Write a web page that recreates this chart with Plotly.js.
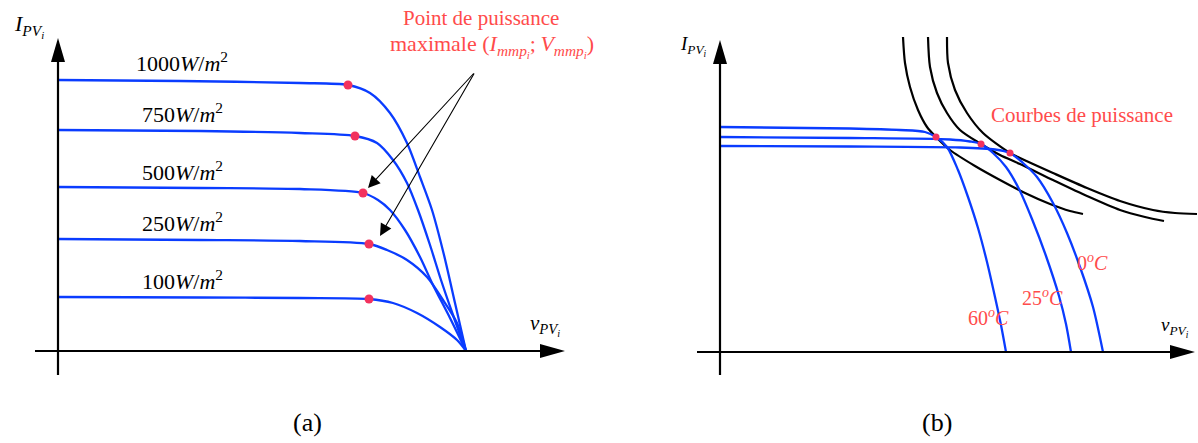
<!DOCTYPE html>
<html>
<head>
<meta charset="utf-8">
<script src="https://cdn.plot.ly/plotly-3.0.1.min.js"></script>
<style>
  html, body { margin: 0; padding: 0; background: #ffffff; }
  #fig { width: 1198px; height: 443px; }
</style>
</head>
<body>
<div id="fig"></div>
<script>
// ---------- (a) I-V curves for several irradiance levels ----------
const irradianceLabels = ['1000', '750', '500', '250', '100'];
const vIrr1000 = [0, 12.2, 24.2, 29.0, 31.2, 33.2, 34.9, 36.2, 37.4, 38.6, 39.7, 40.8];
const iIrr1000 = [5.42, 5.40, 5.36, 5.32, 5.16, 4.76, 4.16, 3.48, 2.82, 1.92, 0.96, 0];
const vIrr750 = [0, 14.2, 24.2, 29.7, 31.9, 33.5, 34.9, 36.0, 37.2, 38.3, 39.5, 40.8];
const iIrr750 = [4.42, 4.40, 4.36, 4.30, 4.16, 3.82, 3.36, 2.82, 2.12, 1.42, 0.72, 0];
const vIrr500 = [0, 14.2, 24.2, 30.5, 32.0, 33.2, 34.7, 36.2, 37.5, 39.2, 40.8];
const iIrr500 = [3.28, 3.26, 3.24, 3.16, 3.02, 2.82, 2.42, 1.88, 1.32, 0.66, 0];
const vIrr250 = [0, 14.2, 24.2, 31.1, 32.9, 34.9, 36.9, 38.5, 39.9, 40.8];
const iIrr250 = [2.24, 2.22, 2.20, 2.14, 2.02, 1.82, 1.48, 1.02, 0.56, 0];
const vIrr100 = [0, 14.2, 24.2, 31.1, 33.5, 35.9, 38.2, 39.9, 40.8];
const iIrr100 = [1.08, 1.07, 1.06, 1.04, 0.96, 0.76, 0.48, 0.22, 0];
// maximum power points of each irradiance curve
const vMppIrr = [29.0, 29.7, 30.5, 31.1, 31.1];
const iMppIrr = [5.32, 4.30, 3.16, 2.14, 1.04];
// irradiance label positions (centre of each label)
const vIrrLabel = [12.4, 12.4, 12.4, 12.4, 12.4];
const iIrrLabel = [5.78, 4.76, 3.60, 2.58, 1.42];

// ---------- (b) I-V curves for several temperatures ----------
const temperatureLabels = ['60', '25', '0'];
const vT60 = [0, 13.0, 18.0, 20.5, 21.6, 22.7, 23.8, 24.8, 25.8, 26.7, 27.5, 28.1, 28.6];
const iT60 = [4.50, 4.47, 4.44, 4.40, 4.30, 4.10, 3.64, 3.10, 2.48, 1.80, 1.10, 0.54, 0];
const vT25 = [0, 13.0, 23.0, 25.0, 26.1, 27.3, 28.6, 29.9, 31.2, 32.6, 33.9, 34.6, 35.1];
const iT25 = [4.30, 4.28, 4.25, 4.21, 4.16, 3.98, 3.70, 3.26, 2.66, 1.92, 1.12, 0.56, 0];
const vT0 = [0, 13.0, 24.0, 27.5, 29.0, 30.3, 31.7, 33.3, 34.7, 36.0, 37.3, 38.3];
const iT0 = [4.12, 4.11, 4.09, 4.05, 3.98, 3.78, 3.50, 2.98, 2.38, 1.70, 0.90, 0];
const vMppT = [21.6, 26.1, 29.0];
const iMppT = [4.30, 4.16, 3.98];
const vTLabel = [26.8, 32.2, 37.2];
const iTLabel = [0.70, 1.10, 1.80];

// constant-power curves through each maximum power point
const vPow1 = [18.3, 18.5, 19.0, 19.8, 20.7, 21.6, 23.0, 25.5, 28.0, 30.5, 33.0, 35.0, 36.3];
const iPow1 = [6.30, 5.78, 5.30, 4.84, 4.50, 4.30, 4.04, 3.72, 3.44, 3.18, 2.96, 2.82, 2.76];
const vPow2 = [20.8, 21.0, 21.7, 22.7, 24.0, 26.1, 28.0, 30.0, 33.3, 36.7, 40.0, 42.5, 44.4];
const iPow2 = [6.30, 5.70, 5.18, 4.78, 4.44, 4.16, 3.94, 3.76, 3.44, 3.12, 2.84, 2.70, 2.62];
const vPow3 = [22.7, 22.8, 23.5, 24.7, 26.3, 29.0, 30.0, 33.3, 36.7, 40.0, 43.3, 45.5, 47.7];
const iPow3 = [6.30, 5.78, 5.24, 4.78, 4.38, 3.98, 3.88, 3.58, 3.28, 3.02, 2.84, 2.78, 2.76];

// axis extents along the voltage and current directions
const axisA = { vMin: -2.3, vMax: 50.7, iMin: -0.48, iMax: 6.26 };
const axisB = { vMin: -2.3, vMax: 47.5, iMin: -0.46, iMax: 6.24 };

// annotation arrows in (a): common tail, two tips
const pointerTail = [41.7, 5.58];
const pointerTips = [[31.0, 3.26], [32.2, 2.30]];

const BLUE = '#0a3cff';
const BLACK = '#000000';
const RED = '#ff4b4b';
const DOT = '#f2325e';
const SERIF = 'Liberation Serif, Times New Roman, serif';
const THIN = '\u2009';

const traces = [];
const irrV = [vIrr1000, vIrr750, vIrr500, vIrr250, vIrr100];
const irrI = [iIrr1000, iIrr750, iIrr500, iIrr250, iIrr100];
irrV.forEach((v, k) => traces.push({
  x: v, y: irrI[k], xaxis: 'x', yaxis: 'y', mode: 'lines',
  line: { color: BLUE, width: 2.3, shape: 'spline', smoothing: 0.8 }, hoverinfo: 'skip'
}));
traces.push({
  x: vMppIrr, y: iMppIrr, xaxis: 'x', yaxis: 'y', mode: 'markers',
  marker: { color: DOT, size: 9 }, hoverinfo: 'skip'
});

[[vPow1, iPow1], [vPow2, iPow2], [vPow3, iPow3]].forEach(([v, i]) => traces.push({
  x: v, y: i, xaxis: 'x2', yaxis: 'y2', mode: 'lines',
  line: { color: BLACK, width: 2.2, shape: 'spline', smoothing: 0.8 }, hoverinfo: 'skip'
}));
[[vT60, iT60], [vT25, iT25], [vT0, iT0]].forEach(([v, i]) => traces.push({
  x: v, y: i, xaxis: 'x2', yaxis: 'y2', mode: 'lines',
  line: { color: BLUE, width: 2.3, shape: 'spline', smoothing: 0.8 }, hoverinfo: 'skip'
}));
traces.push({
  x: vMppT, y: iMppT, xaxis: 'x2', yaxis: 'y2', mode: 'markers',
  marker: { color: DOT, size: 7 }, hoverinfo: 'skip'
});

// axes drawn as lines with solid triangular heads
function axisShapes(ax, xr, yr) {
  const line = { color: BLACK, width: 2.2 };
  return [
    { type: 'line', xref: xr, yref: yr, x0: ax.vMin, x1: ax.vMax - 1.5, y0: 0, y1: 0, line },
    { type: 'line', xref: xr, yref: yr, x0: 0, x1: 0, y0: ax.iMin, y1: ax.iMax - 0.3, line },
    { type: 'path', xref: xr, yref: yr, xsizemode: 'pixel', ysizemode: 'pixel',
      xanchor: ax.vMax, yanchor: 0, path: 'M0,0 L-25,7 L-25,-7 Z',
      fillcolor: BLACK, line: { width: 0 } },
    { type: 'path', xref: xr, yref: yr, xsizemode: 'pixel', ysizemode: 'pixel',
      xanchor: 0, yanchor: ax.iMax, path: 'M0,0 L-7,-24 L7,-24 Z',
      fillcolor: BLACK, line: { width: 0 } }
  ];
}

const IPV = '<i>I</i><sub><i>PV</i><sub><i>i</i></sub></sub>';
const VPV = '<i>v</i><sub><i>PV</i><sub><i>i</i></sub></sub>';
const MPP = '<i>I</i><sub><i>mmp</i><sub><i>i</i></sub></sub>;' + THIN +
            '<i>V</i><sub><i>mmp</i><sub><i>i</i></sub></sub>';

function txt(x, y, text, xr, yr, size, color) {
  return { x, y, xref: xr, yref: yr, text, showarrow: false,
    font: { family: SERIF, size, color: color || BLACK },
    xanchor: 'center', yanchor: 'middle' };
}

const annotations = [];
irradianceLabels.forEach((g, k) => annotations.push(
  txt(vIrrLabel[k], iIrrLabel[k], g + '<i>W</i>/<i>m</i><sup>2</sup>', 'x', 'y', 22)));
temperatureLabels.forEach((t, k) => annotations.push(
  txt(vTLabel[k], iTLabel[k], t + '<sup><i>o</i></sup><i>C</i>', 'x2', 'y2', 20, RED)));
annotations.push(txt(-2.9, 6.50, IPV, 'x', 'y', 22));
annotations.push(txt(48.7, 0.52, VPV, 'x', 'y', 21));
annotations.push(txt(-2.7, 6.12, IPV, 'x2', 'y2', 19));
annotations.push(txt(45.5, 0.50, VPV, 'x2', 'y2', 19));
annotations.push(txt(42.3, 6.66, 'Point de puissance', 'x', 'y', 21, RED));
annotations.push(txt(43.4, 6.10, 'maximale (' + MPP + ')', 'x', 'y', 22, RED));
annotations.push(txt(36.2, 4.74, 'Courbes de puissance', 'x2', 'y2', 21, RED));
annotations.push(txt(24.9, -1.42, '(a)', 'x', 'y', 26));
annotations.push(txt(21.7, -1.40, '(b)', 'x2', 'y2', 26));
pointerTips.forEach(([v, i]) => annotations.push({
  x: v, y: i, ax: pointerTail[0], ay: pointerTail[1], xref: 'x', yref: 'y',
  axref: 'x', ayref: 'y', text: '', showarrow: true, arrowhead: 2,
  arrowsize: 2.2, arrowwidth: 1.1, arrowcolor: BLACK, standoff: 0
}));

const hidden = { visible: false, fixedrange: true };
const layout = {
  width: 1198, height: 443,
  margin: { l: 0, r: 0, t: 0, b: 0 },
  paper_bgcolor: '#ffffff', plot_bgcolor: 'rgba(0,0,0,0)',
  showlegend: false,
  xaxis: Object.assign({ domain: [0, 0.5], range: [-5.8, 54.1] }, hidden),
  yaxis: Object.assign({ domain: [0, 1], range: [-1.84, 7.02] }, hidden),
  xaxis2: Object.assign({ domain: [0.5, 1], range: [-12.1, 47.8], anchor: 'y2' }, hidden),
  yaxis2: Object.assign({ domain: [0, 1], range: [-1.82, 7.04], anchor: 'x2' }, hidden),
  shapes: axisShapes(axisA, 'x', 'y').concat(axisShapes(axisB, 'x2', 'y2')),
  annotations
};

Plotly.newPlot('fig', traces, layout, { staticPlot: true, displayModeBar: false });
</script>
</body>
</html>
